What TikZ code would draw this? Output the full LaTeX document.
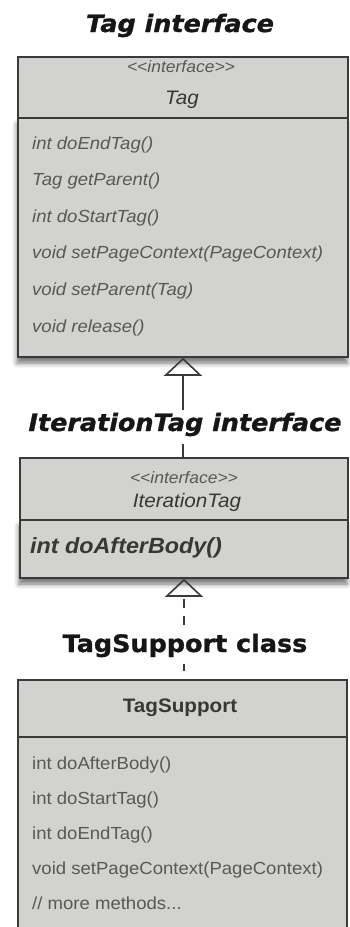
\documentclass[tikz,border=0pt]{standalone}
\usepackage{fontspec}
\setmainfont{Liberation Sans}
\newfontfamily\umlfont[FakeStretch=1.06]{Liberation Sans}
\newfontfamily\titlefont[FakeStretch=1.06, BoldFeatures={FakeBold=1.2}, BoldItalicFeatures={FakeBold=1.2}]{DejaVu Sans}
\usetikzlibrary{arrows.meta, positioning, shadows.blur}
\definecolor{boxgray}{RGB}{210,210,207}
\definecolor{edgegray}{RGB}{58,58,58}
\definecolor{textgray}{RGB}{88,88,88}
\definecolor{namegray}{RGB}{55,55,55}
\definecolor{titleblack}{RGB}{22,22,22}
\newcommand{\moremethods}{// more methods...}

\tikzset{
  classpart/.style={draw=edgegray, line width=1.6pt, fill=boxgray, inner sep=0pt},
  classbody/.style={classpart, blur shadow={shadow xshift=-1pt, shadow yshift=-6pt,
                    shadow blur radius=5pt, shadow opacity=55}},
  method/.style={anchor=base west, inner sep=0pt, text=textgray,
                 font=\umlfont\fontsize{17.5}{20}\selectfont},
  stereo/.style={inner sep=0pt, text=textgray, font=\umlfont\itshape\fontsize{16.5}{18}\selectfont},
  classname/.style={inner sep=0pt, text=namegray, font=\umlfont\itshape\fontsize{19.5}{22}\selectfont},
  title/.style={anchor=base, inner sep=0pt, text=titleblack,
                font=\titlefont\bfseries\fontsize{24}{28}\selectfont},
  generalise/.style={-{Triangle[open, length=18pt, width=38pt, line width=1.6pt]},
                     line width=1.6pt, draw=edgegray},
}

\begin{document}
\begin{tikzpicture}[x=1pt, y=-1pt]
    \useasboundingbox (0,0) rectangle (350,927);

    % Tag interface
    \node[title, font=\titlefont\bfseries\itshape\fontsize{24}{28}\selectfont] (tagTitle) at (180,32) {Tag interface};
    \node[classbody, minimum width=330pt, minimum height=239pt] (tagBody) at (183,237.5) {};
    \node[classpart, minimum width=330pt, minimum height=61pt] (tagHead) at (183,87.5) {};
    \node[stereo] (tagStereo) at (181,67) {<<interface>>};
    \node[classname] (tagName) at (182,100) {Tag};
    \foreach \txt [count=\i] in {{int doEndTag()}, {Tag getParent()}, {int doStartTag()},
        {void setPageContext(PageContext)}, {void setParent(Tag)}, {void release()}}
      \node[method, font=\umlfont\itshape\fontsize{17.5}{20}\selectfont] (tagMeth\i) at (32,{149+36.6*(\i-1)}) {\txt};

    % IterationTag interface
    \node[title, font=\titlefont\bfseries\itshape\fontsize{24}{28}\selectfont] (iterTitle) at (185,431) {IterationTag interface};
    \node[classbody, minimum width=328pt, minimum height=58pt] (iterBody) at (184,549) {};
    \node[classpart, minimum width=328pt, minimum height=62pt] (iterHead) at (184,489) {};
    \node[stereo] (iterStereo) at (184,478) {<<interface>>};
    \node[classname] (iterName) at (187,502) {IterationTag};
    \node[method, text=namegray, font=\umlfont\bfseries\itshape\fontsize{22}{24}\selectfont] (iterMeth) at (30,553) {int doAfterBody()};

    % TagSupport class
    \node[title] (supTitle) at (185,652) {TagSupport class};
    \node[classpart, minimum width=329pt, minimum height=198pt] (supBody) at (182.5,836) {};
    \node[classpart, minimum width=329pt, minimum height=57pt] (supHead) at (182.5,708.5) {};
    \node[inner sep=0pt, text=namegray, font=\umlfont\bfseries\fontsize{19.5}{22}\selectfont] (supName) at (180,708) {TagSupport};
    \foreach \txt [count=\i] in {{int doAfterBody()}, {int doStartTag()}, {int doEndTag()},
        {void setPageContext(PageContext)}, {\moremethods}}
      \node[method] (supMeth\i) at (32,{769+35*(\i-1)}) {\txt};

    % Generalisation arrows
    \draw[line width=1.6pt, draw=edgegray, shorten <=8pt]
      (iterTitle.south -| tagBody.south) -- (iterHead.north -| tagBody.south);
    \draw[generalise, shorten <=3pt] (iterTitle.north -| tagBody.south) -- (tagBody.south);
    \draw[line width=1.6pt, draw=edgegray, dash pattern=on 7pt off 8pt, shorten <=7pt]
      (supTitle.south -| iterBody.south) -- (supHead.north -| iterBody.south);
    \draw[generalise, dash pattern=on 9pt off 8pt, shorten <=9pt]
      (supTitle.north -| iterBody.south) -- (iterBody.south);
\end{tikzpicture}
\end{document}
